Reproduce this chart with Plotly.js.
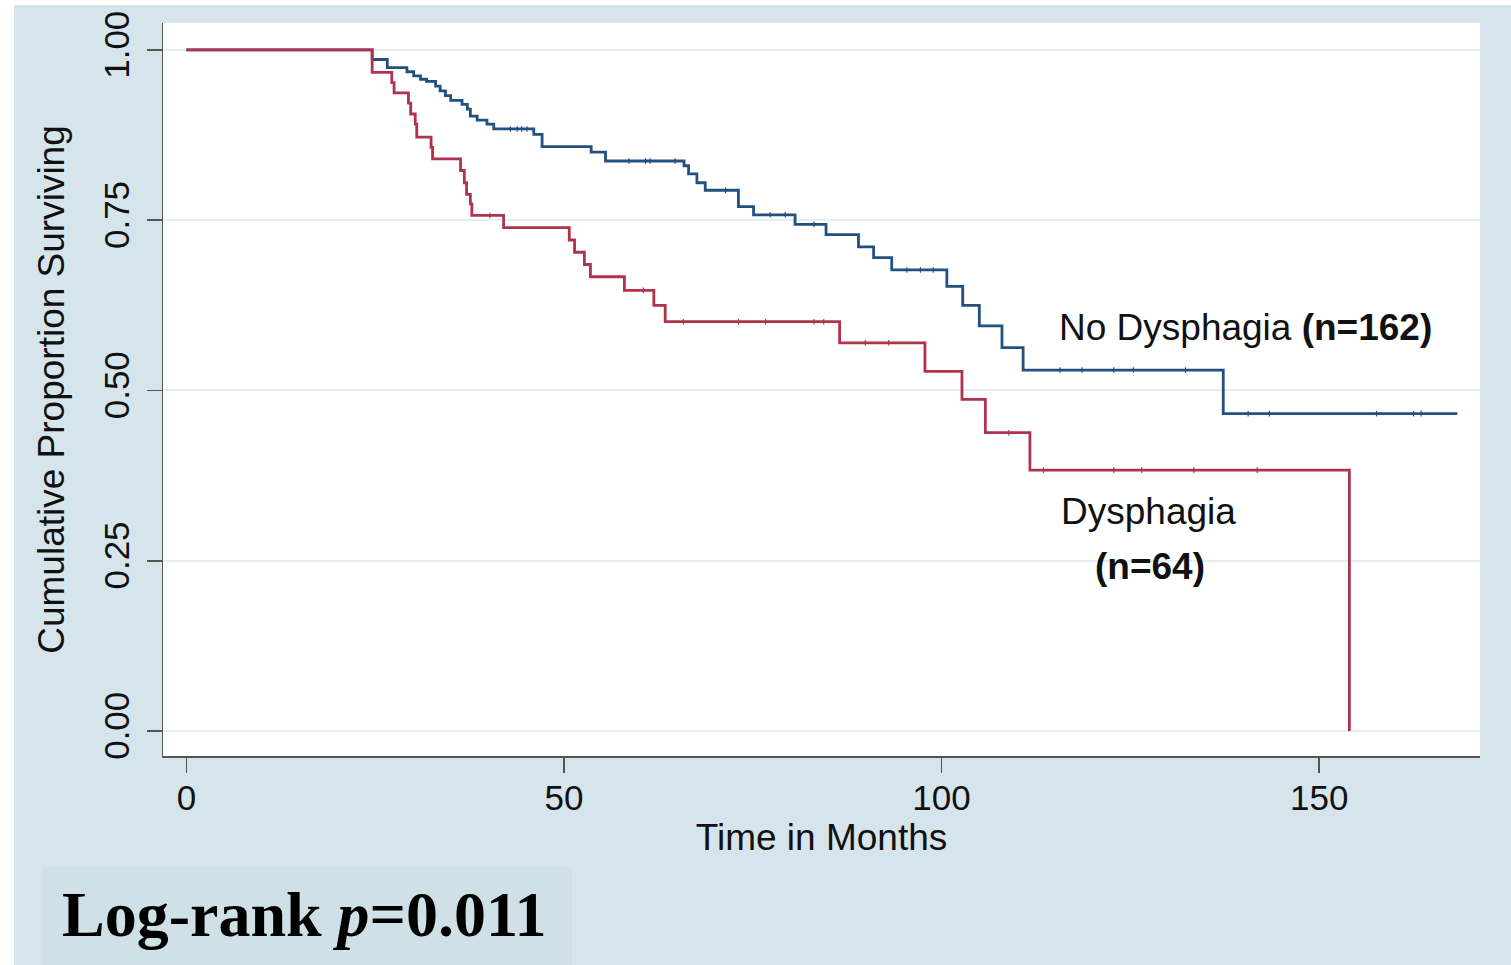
<!DOCTYPE html>
<html>
<head>
<meta charset="utf-8">
<script src="https://cdn.plot.ly/plotly-3.0.1.min.js"></script>
<style>html,body{margin:0;padding:0;background:#ffffff;}#chart{width:1511px;height:965px;}</style>
</head>
<body>
<div id="chart"></div>
<script>
// ---- Data (Kaplan-Meier estimates) ----
const noDysTimes = [0, 24.6, 26.6, 29.2, 30.1, 31.0, 31.8, 33.0, 33.6, 34.3, 35.0, 36.5, 37.2, 37.6, 38.5, 39.8, 40.7, 46.0, 47.1, 53.6, 55.5, 65.9, 66.5, 67.6, 68.7, 73.1, 75.1, 80.6, 84.7, 89.0, 91.0, 93.4, 100.7, 102.8, 105.0, 108.0, 110.8, 137.3, 168.3];
const noDysSurv  = [1.000, 0.986, 0.974, 0.968, 0.962, 0.957, 0.954, 0.947, 0.940, 0.933, 0.926, 0.920, 0.913, 0.903, 0.897, 0.891, 0.884, 0.876, 0.858, 0.850, 0.837, 0.830, 0.818, 0.805, 0.794, 0.770, 0.758, 0.744, 0.729, 0.711, 0.695, 0.677, 0.653, 0.625, 0.595, 0.563, 0.530, 0.466, 0.466];
const noDysCensored = [42.9, 43.8, 44.4, 45.1, 58.6, 60.8, 61.4, 64.7, 71.4, 77.3, 79.3, 83.1, 95.4, 97.2, 98.9, 115.7, 118.6, 122.8, 125.4, 132.3, 140.6, 143.4, 157.6, 162.5, 163.5];

const dysTimes = [0, 24.6, 27.2, 27.5, 29.4, 29.7, 30.3, 30.5, 32.4, 32.6, 36.3, 36.8, 37.1, 37.6, 37.8, 42.0, 50.7, 51.4, 52.7, 53.5, 58.0, 61.9, 63.4, 86.5, 97.8, 102.7, 105.8, 111.7, 154.0];
const dysSurv  = [1.000, 0.967, 0.952, 0.937, 0.922, 0.906, 0.891, 0.872, 0.857, 0.840, 0.823, 0.805, 0.788, 0.774, 0.757, 0.739, 0.721, 0.703, 0.685, 0.667, 0.647, 0.625, 0.601, 0.570, 0.528, 0.487, 0.438, 0.383, 0.000];
const dysCensored = [40.2, 60.5, 65.8, 73.1, 76.7, 83.1, 84.4, 89.9, 93.0, 108.9, 113.5, 122.8, 126.5, 133.4, 141.8];

const xTickVals = [0, 50, 100, 150];
const xTickText = ['0', '50', '100', '150'];
const yTickVals = [0, 0.25, 0.5, 0.75, 1];
const yTickText = ['0.00', '0.25', '0.50', '0.75', '1.00'];

const xTitle = 'Time in Months';
const yTitle = 'Cumulative Proportion Surviving';
const pText = '<b>Log-rank <i>p</i>=0.011</b>';

// ---- helpers ----
function survAt(times, surv, t) {
  let s = surv[0];
  for (let i = 0; i < times.length; i++) { if (times[i] <= t) s = surv[i]; }
  return s;
}

const blue = '#22507f';
const red = '#b0324c';

const traces = [
  {x: noDysTimes, y: noDysSurv, type: 'scatter', mode: 'lines', line: {shape: 'hv', color: blue, width: 2.8}, hoverinfo: 'skip'},
  {x: dysTimes, y: dysSurv, type: 'scatter', mode: 'lines', line: {shape: 'hv', color: red, width: 2.8}, hoverinfo: 'skip'},
  {x: noDysCensored, y: noDysCensored.map(t => survAt(noDysTimes, noDysSurv, t)), type: 'scatter', mode: 'markers',
   marker: {symbol: 'line-ns-open', size: 4, color: blue, line: {color: blue, width: 1.2}}, hoverinfo: 'skip'},
  {x: dysCensored, y: dysCensored.map(t => survAt(dysTimes, dysSurv, t)), type: 'scatter', mode: 'markers',
   marker: {symbol: 'line-ns-open', size: 4, color: red, line: {color: red, width: 1.2}}, hoverinfo: 'skip'}
];

const bg = '#d6e5ec';
const font = 'Liberation Sans, Arial, Helvetica, sans-serif';

const layout = {
  width: 1511, height: 965,
  margin: {l: 163, r: 31, t: 23, b: 209},
  paper_bgcolor: bg,
  plot_bgcolor: '#ffffff',
  showlegend: false,
  font: {family: font, color: '#111111', size: 35},
  xaxis: {
    range: [-3.1, 171.3], tickvals: xTickVals, ticktext: xTickText,
    showgrid: false, zeroline: false, showline: true, linecolor: '#555555', linewidth: 1.5,
    ticks: 'outside', ticklen: 15, tickwidth: 1.5, tickcolor: '#555555',
    tickfont: {family: font, size: 35, color: '#111111'}, ticklabelstandoff: -5,
    title: {text: xTitle, font: {family: font, size: 37, color: '#111111'}, standoff: 8},
    fixedrange: true
  },
  yaxis: {
    range: [-0.0367, 1.0396], tickvals: yTickVals, ticktext: yTickText, tickangle: -90,
    showgrid: true, gridcolor: '#e4edf1', gridwidth: 2, zeroline: false,
    showline: true, linecolor: '#555555', linewidth: 1.5,
    ticks: 'outside', ticklen: 15, tickwidth: 1.5, tickcolor: '#555555',
    tickfont: {family: font, size: 35, color: '#111111'}, ticklabelstandoff: 4,
    title: {text: yTitle, font: {family: font, size: 37, color: '#111111'}, standoff: 20},
    fixedrange: true
  },
  shapes: [
    {type: 'rect', xref: 'paper', yref: 'paper', x0: -0.2, x1: -0.1131, y0: -0.4, y1: 1.2, fillcolor: '#ffffff', line: {width: 0}, layer: 'below'},
    {type: 'rect', xref: 'paper', yref: 'paper', x0: -0.2, x1: 1.1, y0: 1.0246, y1: 1.2, fillcolor: '#ffffff', line: {width: 0}, layer: 'below'},
    {type: 'rect', xref: 'paper', yref: 'paper', x0: -0.0919, x1: 0.3106, y0: -0.29, y1: -0.1514, fillcolor: '#cfe1e6', line: {width: 0}, layer: 'below'}
  ],
  annotations: [
    {x: 115.3, y: 0.593, xref: 'x', yref: 'y', xanchor: 'left', yanchor: 'middle', showarrow: false,
     text: 'No Dysphagia <b>(n=162)</b>', font: {family: font, size: 37, color: '#111111'}},
    {x: 127.4, y: 0.322, xref: 'x', yref: 'y', xanchor: 'center', yanchor: 'middle', showarrow: false,
     text: 'Dysphagia', font: {family: font, size: 37, color: '#111111'}},
    {x: 127.6, y: 0.241, xref: 'x', yref: 'y', xanchor: 'center', yanchor: 'middle', showarrow: false,
     text: '<b>(n=64)</b>', font: {family: font, size: 37, color: '#111111'}},
    {x: 0.1078, y: -0.2165, xref: 'paper', yref: 'paper', xanchor: 'center', yanchor: 'middle', showarrow: false,
     text: pText, font: {family: 'Liberation Serif, Times New Roman, serif', size: 64, color: '#000000'}}
  ]
};

Plotly.newPlot('chart', traces, layout, {staticPlot: true, displayModeBar: false});
</script>
</body>
</html>
